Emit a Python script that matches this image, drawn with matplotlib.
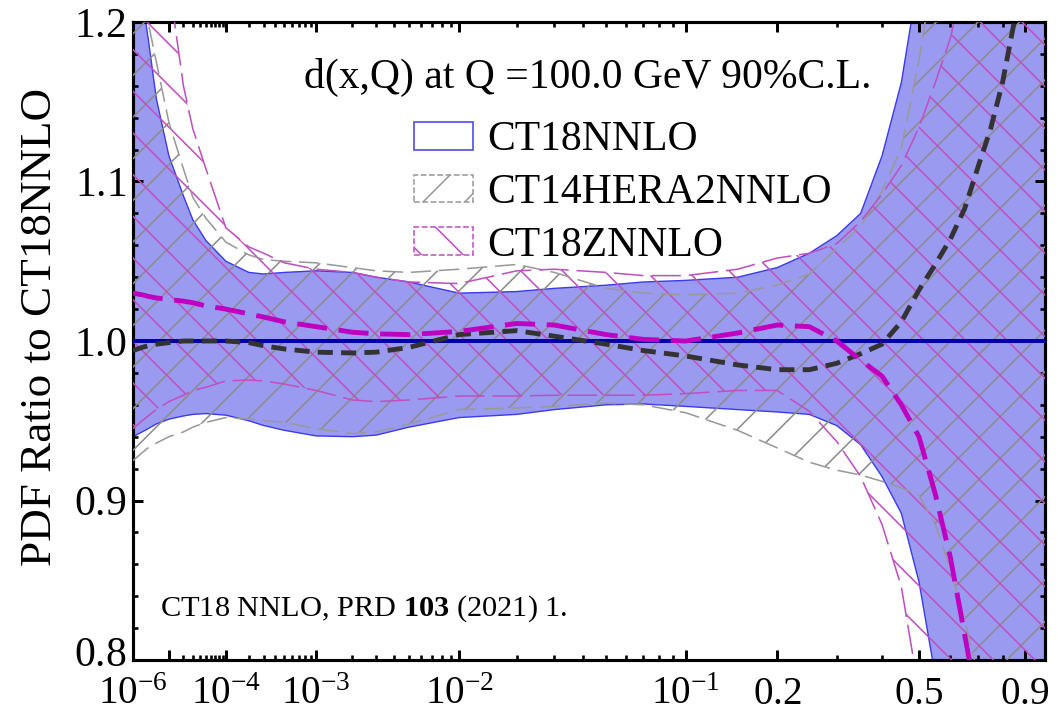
import numpy as np
import matplotlib
matplotlib.use("Agg")
import matplotlib.pyplot as plt
from matplotlib.patches import Patch
from matplotlib.ticker import FixedLocator
from matplotlib.transforms import ScaledTranslation

plt.rcParams['font.family'] = ['Liberation Serif', 'DejaVu Serif']
plt.rcParams['mathtext.fontset'] = 'custom'
plt.rcParams['mathtext.rm'] = 'Liberation Serif'
plt.rcParams['mathtext.it'] = 'Liberation Serif:italic'
plt.rcParams['mathtext.bf'] = 'Liberation Serif:bold'
plt.rcParams['hatch.linewidth'] = 0.9

# momentum fraction grid
x = np.array([1e-6, 2e-6, 3e-6, 5e-6, 1e-5, 2e-5, 3e-5, 5e-5, 1e-4, 2e-4,
              3e-4, 5e-4, 1e-3, 2e-3, 3e-3, 5e-3, 1e-2, 2e-2, 3e-2, 5e-2,
              0.07, 0.1, 0.15, 0.2, 0.25, 0.3, 0.35, 0.4, 0.45, 0.5,
              0.55, 0.6, 0.65, 0.7, 0.75, 0.8, 0.85, 0.9, 0.95, 1.0])

# CT18NNLO band (ratio to its own central value)
ct18_hi = [1.27, 1.215, 1.19, 1.152, 1.116, 1.091, 1.076, 1.063, 1.050, 1.043,
           1.042, 1.043, 1.044, 1.043, 1.040, 1.037, 1.030, 1.031, 1.033, 1.035,
           1.037, 1.038, 1.040, 1.046, 1.055, 1.066, 1.080, 1.116, 1.162, 1.23,
           1.32, 1.42, 1.52, 1.62, 1.72, 1.82, 1.92, 2.0, 2.1, 2.2]
ct18_lo = [0.940, 0.943, 0.945, 0.948, 0.951, 0.953, 0.954, 0.9545, 0.9535, 0.950,
           0.947, 0.944, 0.9405, 0.940, 0.941, 0.946, 0.952, 0.954, 0.957, 0.960,
           0.9605, 0.959, 0.957, 0.9555, 0.954, 0.947, 0.935, 0.915, 0.892, 0.849,
           0.79, 0.72, 0.65, 0.58, 0.52, 0.46, 0.40, 0.35, 0.30, 0.25]
ct18_c = [1.0] * len(x)

# CT14HERA2NNLO
ct14_hi = [1.27, 1.225, 1.20, 1.175, 1.137, 1.108, 1.090, 1.077, 1.062, 1.054,
           1.051, 1.050, 1.049, 1.046, 1.044, 1.043, 1.045, 1.048, 1.043, 1.033,
           1.030, 1.029, 1.030, 1.035, 1.042, 1.058, 1.072, 1.094, 1.121, 1.176,
           1.24, 1.31, 1.40, 1.50, 1.60, 1.70, 1.80, 1.90, 2.0, 2.1]
ct14_lo = [0.925, 0.930, 0.933, 0.936, 0.940, 0.943, 0.946, 0.949, 0.952, 0.951,
           0.950, 0.949, 0.945, 0.942, 0.943, 0.948, 0.957, 0.958, 0.959, 0.961,
           0.960, 0.955, 0.944, 0.933, 0.924, 0.919, 0.916, 0.912, 0.908, 0.903,
           0.885, 0.857, 0.825, 0.79, 0.75, 0.70, 0.65, 0.60, 0.55, 0.50]
ct14_c = [0.994, 0.996, 0.997, 0.998, 0.999, 1.000, 1.000, 1.000, 1.000, 0.999,
          0.997, 0.995, 0.993, 0.9925, 0.993, 0.996, 1.004, 1.0065, 1.003, 0.998,
          0.994, 0.9906, 0.985, 0.982, 0.982, 0.986, 0.992, 0.998, 1.012, 1.032,
          1.048, 1.064, 1.083, 1.109, 1.133, 1.162, 1.199, 1.25, 1.30, 1.36]

# CT18ZNNLO
ct18z_hi = [1.45, 1.38, 1.33, 1.27, 1.225, 1.16, 1.133, 1.108, 1.071, 1.059,
            1.055, 1.049, 1.045, 1.043, 1.040, 1.037, 1.036, 1.044, 1.045, 1.043,
            1.041, 1.041, 1.045, 1.052, 1.055, 1.061, 1.075, 1.092, 1.110, 1.134,
            1.162, 1.19, 1.23, 1.28, 1.34, 1.40, 1.47, 1.55, 1.63, 1.72]
ct18z_lo = [0.945, 0.950, 0.953, 0.957, 0.962, 0.966, 0.969, 0.971, 0.975, 0.9755,
            0.975, 0.973, 0.969, 0.963, 0.962, 0.963, 0.9655, 0.9655, 0.966, 0.966,
            0.966, 0.967, 0.969, 0.969, 0.956, 0.937, 0.915, 0.885, 0.846, 0.78,
            0.72, 0.66, 0.60, 0.54, 0.48, 0.42, 0.36, 0.30, 0.25, 0.20]
ct18z_c = [1.030, 1.029, 1.028, 1.027, 1.026, 1.025, 1.024, 1.022, 1.020, 1.017,
           1.015, 1.012, 1.009, 1.0055, 1.0045, 1.004, 1.006, 1.011, 1.010, 1.004,
           1.001, 1.000, 1.005, 1.010, 1.009, 1.000, 0.988, 0.978, 0.960, 0.940,
           0.904, 0.864, 0.816, 0.77, 0.72, 0.67, 0.62, 0.57, 0.52, 0.47]

xticks = [1e-6, 1e-5, 1e-4, 1e-3, 1e-2, 0.1, 0.2, 0.5, 0.9]
xticklabels = [r'$10^{-6}$', '', r'$10^{-4}$', r'$10^{-3}$', r'$10^{-2}$',
               r'$10^{-1}$', r'$0.2$', r'$0.5$', r'$0.9$']
xminor = [m * d for d in (1e-5, 1e-4, 1e-3, 1e-2) for m in range(2, 10)] + \
         [0.3, 0.4, 0.6, 0.7, 0.8]
yticks = [0.8, 0.9, 1.0, 1.1, 1.2]
yticklabels = [r'$0.8$', r'$0.9$', r'$1.0$', r'$1.1$', r'$1.2$']

blue_fill = '#9a9af0'
blue_edge = '#3a3aee'
gray = '#8c8c8c'
mag = '#c050c0'

fig = plt.figure(figsize=(1058 / 125, 713 / 125), dpi=125)
ax = fig.add_axes([133 / 1058, 1 - 660 / 713, 912 / 1058, 638 / 713])
ax.set_xscale('function', functions=(lambda v: np.power(np.clip(v, 0, None), 0.2),
                                     lambda v: np.power(np.clip(v, 0, None), 5.0)))

# bands
ax.fill_between(x, ct18_lo, ct18_hi, facecolor=blue_fill, edgecolor='none', zorder=1)
ax.plot(x, ct18_hi, color=blue_edge, lw=0.8, zorder=2)
ax.plot(x, ct18_lo, color=blue_edge, lw=0.8, zorder=2)

ax.fill_between(x, ct14_lo, ct14_hi, facecolor='none', edgecolor=gray,
                hatch='/', linewidth=0, zorder=3)
ax.fill_between(x, ct18z_lo, ct18z_hi, facecolor='none', edgecolor=mag,
                hatch='\\', linewidth=0, zorder=3)
ax.plot(x, ct14_hi, color='#999999', lw=0.9, dashes=(13, 5), zorder=4)
ax.plot(x, ct14_lo, color='#999999', lw=0.9, dashes=(13, 5), zorder=4)
ax.plot(x, ct18z_hi, color=mag, lw=0.9, dashes=(19, 5), zorder=4)
ax.plot(x, ct18z_lo, color=mag, lw=0.9, dashes=(19, 5), zorder=4)

# central values
ax.plot(x, ct18_c, color='#0000a8', lw=2.3, zorder=5)
ax.plot(x, ct14_c, color='#333333', lw=2.8, dashes=(3.1, 1.7), zorder=6)
ax.plot(x, ct18z_c, color='#c000c0', lw=2.8, dashes=(6.2, 2.4), zorder=7)

ax.set_xlim(1e-6, 1.0)
ax.set_ylim(0.8, 1.2)
ax.xaxis.set_major_locator(FixedLocator(xticks))
ax.xaxis.set_minor_locator(FixedLocator(xminor))
ax.set_xticklabels(xticklabels)
ax.set_yticks(yticks)
ax.set_yticklabels(yticklabels)
ax.yaxis.set_minor_locator(FixedLocator(np.arange(0.8, 1.2001, 0.02)))
ax.tick_params(which='both', direction='in', top=True, right=True)
ax.tick_params(which='major', length=5.5, width=1.7, labelsize=24)
ax.tick_params(which='minor', length=3, width=1.5)
ax.tick_params(axis='x', which='major', pad=9, labelsize=22.5)
ax.tick_params(axis='y', which='major', pad=4)
for s in ax.spines.values():
    s.set_linewidth(1.8)

# nudge the bottom y label up a little so it clears the 10^-6 label
lbl = ax.get_yticklabels()[0]
lbl.set_transform(lbl.get_transform() + ScaledTranslation(0, 5 / 72, fig.dpi_scale_trans))

fig.text(40 / 1058, 1 - 327 / 713, 'PDF Ratio to CT18NNLO', rotation=90,
         ha='center', va='center', fontsize=26)

fig.text(588 / 1058, 1 - 88 / 713, 'd(x,Q) at Q =100.0 GeV 90%C.L.',
         ha='center', va='baseline', fontsize=24)

handles = [
    Patch(facecolor='white', edgecolor='#5555ee', lw=1.0),
    Patch(facecolor='white', edgecolor='#999999', hatch='/', lw=0.9, linestyle='--'),
    Patch(facecolor='white', edgecolor=mag, hatch='\\', lw=0.9, linestyle='--'),
]
labels = ['CT18NNLO', 'CT14HERA2NNLO', 'CT18ZNNLO']
ax.legend(handles, labels, loc='upper left', bbox_to_anchor=(414 / 1058, 1 - 121 / 713),
          bbox_transform=fig.transFigure, frameon=False, fontsize=24,
          handlelength=1.42, handleheight=0.65, handletextpad=0.34,
          labelspacing=0.34, borderpad=0, borderaxespad=0)

fig.text(160 / 1058, 1 - 616 / 713, r'CT18 NNLO, PRD $\mathbf{103}$ (2021) 1.',
         ha='left', va='baseline', fontsize=17.5)

fig.savefig('out.png', dpi=125)
